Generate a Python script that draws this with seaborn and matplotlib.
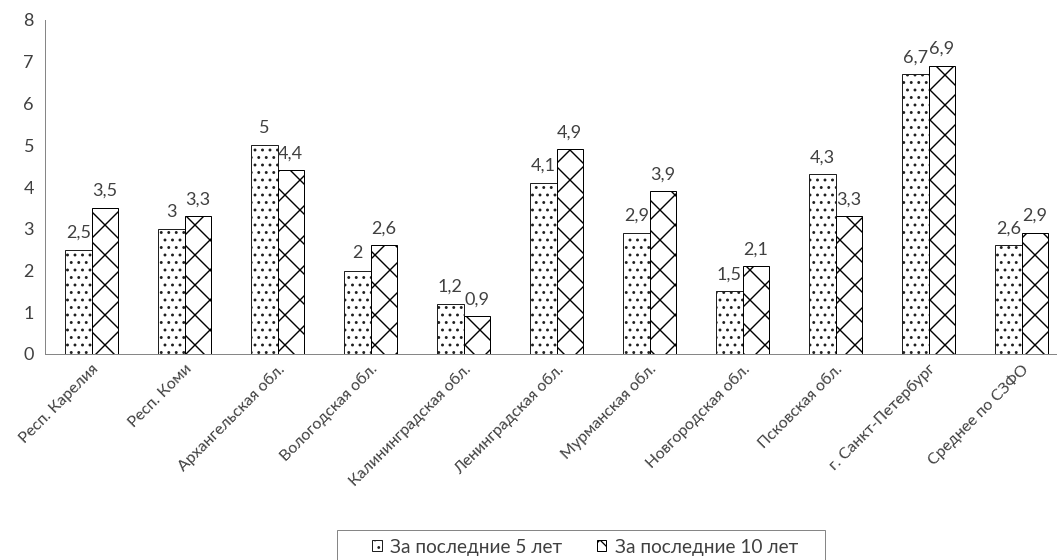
import seaborn as sns
import matplotlib.pyplot as plt
import matplotlib.ticker as mticker
import matplotlib.patches as mpatches
import pandas as pd

# data
regions = ["Респ. Карелия", "Респ. Коми", "Архангельская обл.", "Вологодская обл.",
           "Калининградская обл.", "Ленинградская обл.", "Мурманская обл.",
           "Новгородская обл.", "Псковская обл.", "г. Санкт-Петербург", "Среднее по СЗФО"]
last5 = [2.5, 3, 5, 2, 1.2, 4.1, 2.9, 1.5, 4.3, 6.7, 2.6]
last10 = [3.5, 3.3, 4.4, 2.6, 0.9, 4.9, 3.9, 2.1, 3.3, 6.9, 2.9]
series = ["За последние 5 лет", "За последние 10 лет"]
yticks = [0, 1, 2, 3, 4, 5, 6, 7, 8]

df = pd.DataFrame({
    "region": regions * 2,
    "value": last5 + last10,
    "series": [series[0]] * len(regions) + [series[1]] * len(regions),
})

DPI = 90
W, H = 1057, 560


def pt(px):
    # pixel size -> points at the chosen dpi
    return px * 72 / DPI


sns.set_style("white")
plt.rcParams['font.family'] = ['Lato', 'DejaVu Sans']
plt.rcParams['hatch.linewidth'] = pt(1.3)
plt.rcParams['hatch.color'] = 'black'

axis_grey = '#868686'
text_grey = '#404040'

fig = plt.figure(figsize=(W / DPI, H / DPI), dpi=DPI)
ax = fig.add_axes([45 / W, 1 - 354 / H, 1023 / W, 334 / H])

sns.barplot(data=df, x="region", y="value", hue="series", order=regions,
            hue_order=series, palette=["white", "white"], width=0.57,
            edgecolor="black", linewidth=pt(1.0), ax=ax, legend=False)

hatches = ["..", "x"]
edges = ["#202020", "black"]
hatch_lw = [pt(1.4), pt(1.4)]
n = len(regions)


def style_patch(p, k):
    p.set_hatch(hatches[k])
    p.set_edgecolor(edges[k])
    if hasattr(p, "set_hatchcolor"):
        p.set_hatchcolor("black")
    if hasattr(p, "set_hatch_linewidth"):
        p.set_hatch_linewidth(hatch_lw[k])


for i, bar in enumerate(ax.patches[:2 * n]):
    style_patch(bar, i // n)

for i, bar in enumerate(ax.patches[:2 * n]):
    v = bar.get_height()
    txt = f"{v:g}".replace(".", ",")
    ax.annotate(txt, (bar.get_x() + bar.get_width() / 2, v),
                xytext=(0, pt(9)), textcoords="offset points",
                ha="center", va="bottom", fontsize=pt(18), color=text_grey)

ax.set_ylim(0, 8)
ax.set_xlim(-0.5, n - 0.5)
ax.set_yticks(yticks)
ax.set_xlabel("")
ax.set_ylabel("")

for s in ["top", "right"]:
    ax.spines[s].set_visible(False)
for s in ["left", "bottom"]:
    ax.spines[s].set_color(axis_grey)
    ax.spines[s].set_linewidth(pt(1.0))

ax.xaxis.set_minor_locator(mticker.FixedLocator([k - 0.5 for k in range(n + 1)]))
ax.tick_params(axis="x", which="major", length=0, pad=pt(8))
ax.tick_params(axis="x", which="minor", length=pt(5), width=pt(1), color=axis_grey,
               direction="out")
ax.tick_params(axis="y", length=pt(5), width=pt(1), color=axis_grey, direction="out",
               pad=pt(6), labelsize=pt(18), labelcolor=text_grey)
plt.setp(ax.get_xticklabels(), rotation=45, ha="right", rotation_mode="anchor",
         fontsize=pt(16), color=text_grey)

handles = []
for k in range(2):
    h = mpatches.Patch(facecolor="white", label=series[k], linewidth=pt(1))
    style_patch(h, k)
    handles.append(h)

leg = fig.legend(handles=handles, loc="upper center", ncol=2,
                 bbox_to_anchor=(585 / W, 1 - 530 / H), fontsize=pt(19),
                 frameon=False, borderaxespad=0, handlelength=0.5, handleheight=0.5,
                 handletextpad=0.45, columnspacing=1.8, borderpad=0.45)
for t in leg.get_texts():
    t.set_color(text_grey)

# legend box as in the source: wide, cut off by the bottom edge
box = mpatches.Rectangle((337 / W, -0.05), (825 - 337) / W, 0.05 + 1 - 530 / H,
                         transform=fig.transFigure, facecolor="none",
                         edgecolor=axis_grey, linewidth=pt(1.0))
fig.patches.append(box)

fig.savefig("out.png", dpi=DPI)
